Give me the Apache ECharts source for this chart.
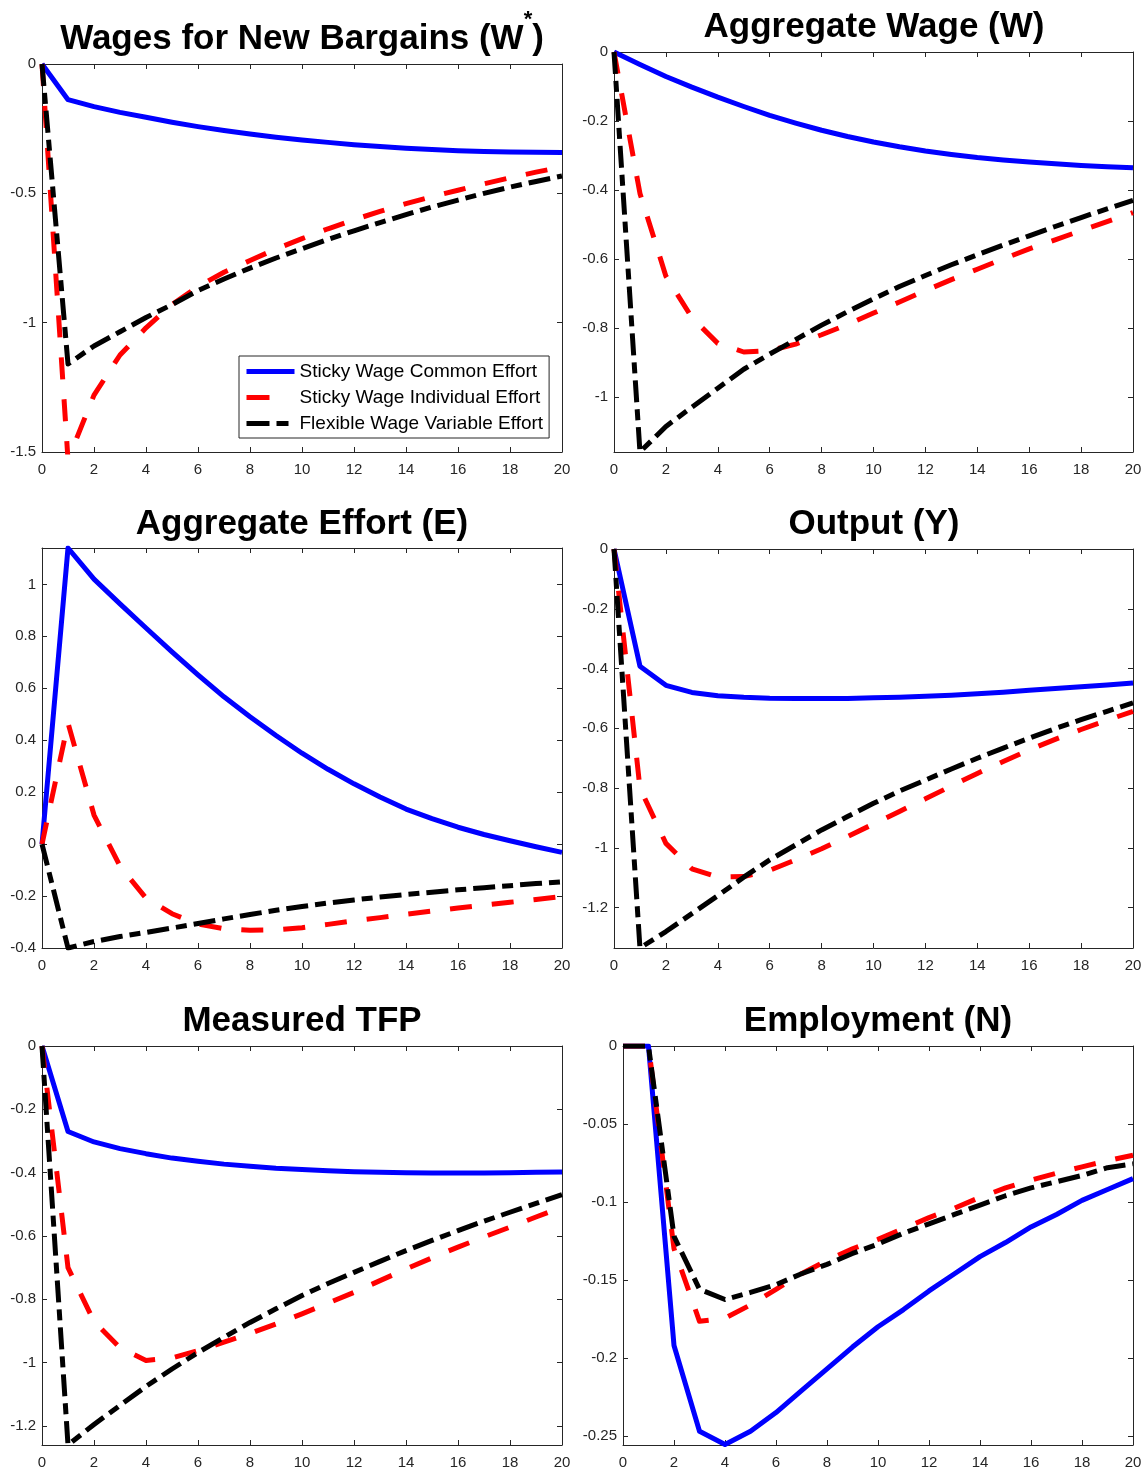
<!DOCTYPE html>
<html><head><meta charset="utf-8">
<script src="https://cdn.jsdelivr.net/npm/echarts@6/dist/echarts.min.js"></script>
<style>html,body{margin:0;padding:0;background:#fff}#c{width:1144px;height:1470px}</style>
</head><body><div id="c"></div>
<script>
// ---------- data ----------
const periods = [0,1,2,3,4,5,6,7,8,9,10,11,12,13,14,15,16,17,18,19,20];
const seriesNames = ['Sticky Wage Common Effort','Sticky Wage Individual Effort','Flexible Wage Variable Effort'];
const xTickValues = [0,2,4,6,8,10,12,14,16,18,20];

// Wages for New Bargains (W*)
const wStarCommon     = [0,-0.138,-0.165,-0.187,-0.206,-0.225,-0.242,-0.257,-0.271,-0.283,-0.294,-0.303,-0.312,-0.319,-0.326,-0.331,-0.335,-0.338,-0.340,-0.341,-0.342];
const wStarIndividual = [0,-1.53,-1.28,-1.125,-1.02,-0.93,-0.86,-0.805,-0.76,-0.715,-0.675,-0.637,-0.602,-0.57,-0.54,-0.513,-0.488,-0.463,-0.44,-0.418,-0.398];
const wStarFlexible   = [0,-1.16,-1.09,-1.035,-0.98,-0.93,-0.876,-0.831,-0.789,-0.75,-0.714,-0.678,-0.645,-0.613,-0.582,-0.553,-0.526,-0.50,-0.476,-0.454,-0.433];
const wStarTicks = [0,-0.5,-1,-1.5];

// Aggregate Wage (W)
const wCommon     = [0,-0.036,-0.071,-0.102,-0.131,-0.158,-0.184,-0.206,-0.227,-0.245,-0.261,-0.275,-0.287,-0.297,-0.306,-0.313,-0.319,-0.324,-0.329,-0.333,-0.336];
const wIndividual = [0,-0.41,-0.65,-0.77,-0.845,-0.87,-0.866,-0.847,-0.82,-0.79,-0.757,-0.725,-0.692,-0.66,-0.63,-0.60,-0.571,-0.545,-0.518,-0.492,-0.466];
const wFlexible   = [0,-1.16,-1.086,-1.03,-0.975,-0.92,-0.876,-0.834,-0.792,-0.753,-0.716,-0.68,-0.648,-0.617,-0.588,-0.56,-0.533,-0.506,-0.48,-0.455,-0.43];
const wTicks = [0,-0.2,-0.4,-0.6,-0.8,-1];

// Aggregate Effort (E)
const eCommon     = [0,1.14,1.02,0.925,0.832,0.74,0.652,0.567,0.49,0.418,0.35,0.288,0.232,0.181,0.135,0.098,0.065,0.037,0.013,-0.01,-0.032];
const eIndividual = [0,0.466,0.112,-0.085,-0.208,-0.268,-0.308,-0.326,-0.332,-0.33,-0.322,-0.309,-0.295,-0.283,-0.27,-0.258,-0.246,-0.235,-0.224,-0.213,-0.202];
const eFlexible   = [0,-0.40,-0.375,-0.356,-0.34,-0.323,-0.306,-0.288,-0.271,-0.255,-0.24,-0.227,-0.215,-0.204,-0.194,-0.185,-0.176,-0.168,-0.16,-0.152,-0.145];
const eTicks = [1,0.8,0.6,0.4,0.2,0,-0.2,-0.4];

// Output (Y)
const yCommon     = [0,-0.392,-0.456,-0.48,-0.491,-0.496,-0.499,-0.5,-0.5,-0.5,-0.498,-0.496,-0.493,-0.489,-0.484,-0.479,-0.473,-0.467,-0.461,-0.455,-0.448];
const yIndividual = [0,-0.80,-0.985,-1.07,-1.098,-1.096,-1.075,-1.04,-1.003,-0.962,-0.92,-0.878,-0.836,-0.793,-0.751,-0.711,-0.672,-0.637,-0.604,-0.573,-0.543];
const yFlexible   = [0,-1.335,-1.28,-1.22,-1.16,-1.098,-1.04,-0.99,-0.94,-0.895,-0.851,-0.81,-0.773,-0.736,-0.7,-0.666,-0.633,-0.601,-0.571,-0.543,-0.515];
const yTicks = [0,-0.2,-0.4,-0.6,-0.8,-1,-1.2];

// Measured TFP
const tfpCommon     = [0,-0.27,-0.303,-0.324,-0.34,-0.354,-0.364,-0.373,-0.38,-0.386,-0.39,-0.394,-0.397,-0.399,-0.4,-0.401,-0.401,-0.401,-0.4,-0.399,-0.398];
const tfpIndividual = [0,-0.70,-0.87,-0.953,-0.993,-0.985,-0.962,-0.935,-0.908,-0.878,-0.846,-0.812,-0.778,-0.741,-0.704,-0.669,-0.635,-0.603,-0.572,-0.54,-0.509];
const tfpFlexible   = [0,-1.26,-1.195,-1.135,-1.075,-1.02,-0.968,-0.92,-0.873,-0.83,-0.788,-0.75,-0.715,-0.68,-0.646,-0.614,-0.583,-0.553,-0.525,-0.497,-0.469];
const tfpTicks = [0,-0.2,-0.4,-0.6,-0.8,-1,-1.2];

// Employment (N)
const nCommon     = [0,0,-0.192,-0.247,-0.2555,-0.247,-0.235,-0.221,-0.207,-0.193,-0.18,-0.169,-0.157,-0.146,-0.135,-0.126,-0.116,-0.108,-0.099,-0.092,-0.085];
const nIndividual = [0,0,-0.13,-0.1765,-0.1745,-0.166,-0.156,-0.146,-0.1375,-0.13,-0.124,-0.117,-0.11,-0.104,-0.097,-0.091,-0.086,-0.0815,-0.0775,-0.0735,-0.07];
const nFlexible   = [0,0,-0.122,-0.156,-0.1625,-0.158,-0.153,-0.146,-0.14,-0.133,-0.127,-0.12,-0.114,-0.108,-0.102,-0.096,-0.091,-0.087,-0.083,-0.078,-0.0755];
const nTicks = [0,-0.05,-0.1,-0.15,-0.2,-0.25];

// ---------- layout / styling ----------
const panels = [
  {title:'{a|Wages for New Bargains (W}{sup|*}{a|)}', tx:302, ty:9, rich:true,
   grid:{left:42, top:64, width:520, height:388}, ymin:-1.5, ymax:0, ticks:wStarTicks,
   data:[wStarCommon,wStarIndividual,wStarFlexible]},
  {title:'Aggregate Wage (W)', tx:874, ty:7,
   grid:{left:614, top:52, width:519, height:400}, ymin:-1.16, ymax:0, ticks:wTicks,
   data:[wCommon,wIndividual,wFlexible]},
  {title:'Aggregate Effort (E)', tx:302, ty:504,
   grid:{left:42, top:548, width:520, height:400}, ymin:-0.4, ymax:1.14, ticks:eTicks,
   data:[eCommon,eIndividual,eFlexible]},
  {title:'Output (Y)', tx:874, ty:504,
   grid:{left:614, top:549, width:519, height:399}, ymin:-1.335, ymax:0, ticks:yTicks,
   data:[yCommon,yIndividual,yFlexible]},
  {title:'Measured TFP', tx:302, ty:1001,
   grid:{left:42, top:1046, width:520, height:399}, ymin:-1.26, ymax:0, ticks:tfpTicks,
   data:[tfpCommon,tfpIndividual,tfpFlexible]},
  {title:'Employment (N)', tx:878, ty:1001,
   grid:{left:623, top:1046, width:510, height:399}, ymin:-0.2558, ymax:0, ticks:nTicks,
   data:[nCommon,nIndividual,nFlexible]}
];

const lineColors = ['#0000ff','#ff0000','#000000'];
const lineTypes = ['solid',[22,20],[22,7,11,7]];
const legendTypes = ['solid',[23,40],[23,7,12,40]];

const axisColor = '#262626';
const FONT = 'Liberation Sans';

const option = {
  animation:false,
  backgroundColor:'#ffffff',
  color:lineColors,
  title:[], grid:[], xAxis:[], yAxis:[], series:[],
  legend:{
    data:seriesNames.map((n, k) => ({name:n, itemStyle:{opacity:0},
      lineStyle:{color:lineColors[k], width:5, type:legendTypes[k], cap:'butt'}})),
    orient:'vertical', left:239, top:356,
    itemWidth:48, itemHeight:19, itemGap:7, padding:[6,6,5,5],
    borderColor:'#262626', borderWidth:1, backgroundColor:'#ffffff',
    selectedMode:false, z:20,
    itemStyle:{opacity:0},
    lineStyle:{width:5, cap:'butt'},
    textStyle:{fontSize:19, color:'#000', fontFamily:FONT}
  }
};

panels.forEach((p, i) => {
  option.grid.push(Object.assign({show:false, containLabel:false, outerBoundsMode:'none'}, p.grid));
  const t = {left:p.tx, top:p.ty, textAlign:'center', padding:0,
    textStyle:{fontSize:35, fontWeight:'bold', color:'#000', fontFamily:FONT, lineHeight:40}};
  if (p.rich) {
    t.textStyle.rich = {
      a:{fontSize:35, fontWeight:'bold', color:'#000', fontFamily:FONT, lineHeight:60},
      sup:{fontSize:22, fontWeight:'bold', color:'#000', fontFamily:FONT, lineHeight:22, verticalAlign:'top'}
    };
  }
  t.text = p.title;
  option.title.push(t);

  const tickStyle = {show:true, inside:true, length:5, lineStyle:{color:axisColor, width:1}};
  const lineSt = {show:true, onZero:false, lineStyle:{color:axisColor, width:1}};
  const lbl = {color:axisColor, fontSize:15, fontFamily:FONT};
  option.xAxis.push({type:'value', gridIndex:i, min:0, max:20, position:'bottom',
    axisLine:lineSt, axisTick:Object.assign({customValues:xTickValues}, tickStyle),
    axisLabel:Object.assign({customValues:xTickValues, margin:10}, lbl), splitLine:{show:false}});
  option.xAxis.push({type:'value', gridIndex:i, min:0, max:20, position:'top',
    axisLine:lineSt, axisTick:Object.assign({customValues:xTickValues}, tickStyle),
    axisLabel:{show:false}, splitLine:{show:false}});
  option.yAxis.push({type:'value', gridIndex:i, min:p.ymin, max:p.ymax, position:'left',
    axisLine:lineSt, axisTick:Object.assign({customValues:p.ticks}, tickStyle),
    axisLabel:Object.assign({customValues:p.ticks, margin:6}, lbl), splitLine:{show:false}});
  option.yAxis.push({type:'value', gridIndex:i, min:p.ymin, max:p.ymax, position:'right',
    axisLine:lineSt, axisTick:Object.assign({customValues:p.ticks}, tickStyle),
    axisLabel:{show:false}, splitLine:{show:false}});

  p.data.forEach((arr, k) => {
    option.series.push({
      type:'line', name:seriesNames[k], xAxisIndex:2*i, yAxisIndex:2*i,
      data:periods.map((x, j) => [x, arr[j]]),
      symbol:'none', showSymbol:false, clip:true, z:2+k,
      itemStyle:{color:lineColors[k]},
      lineStyle:{color:lineColors[k], width:5, type:lineTypes[k], cap:'butt', join:'round'},
      emphasis:{disabled:true}, silent:true
    });
  });
});

const chart = echarts.init(document.getElementById('c'), null, {renderer:'canvas'});
chart.setOption(option);
</script>
</body></html>
